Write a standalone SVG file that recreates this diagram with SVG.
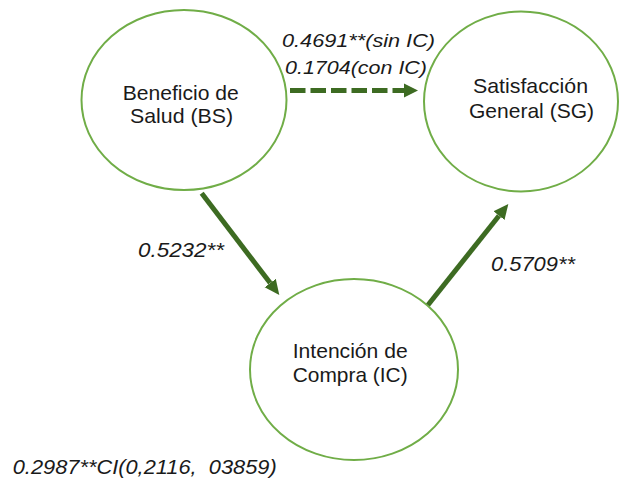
<svg xmlns="http://www.w3.org/2000/svg" width="620" height="478" viewBox="0 0 620 478">
<style>
.node ellipse{fill:#ffffff;stroke:#70ad47;stroke-width:2}
.nt{font-family:"Liberation Sans",Arial,sans-serif;font-size:21px;fill:#1a1a1a}
.lbl{font-family:"Liberation Sans",Arial,sans-serif;font-style:italic;fill:#1a1a1a}
.conn line{stroke:#3d6b22;fill:none}
</style>
<defs>
<marker id="ah" viewBox="0 -8 16 16" refX="0" refY="0" markerWidth="16" markerHeight="16" markerUnits="userSpaceOnUse" orient="auto">
<path d="M0,-7 L15,0 L0,7 z" fill="#3d6b22"/>
</marker>
<marker id="ahs" viewBox="0 -8 16 16" refX="0" refY="0" markerWidth="16" markerHeight="16" markerUnits="userSpaceOnUse" orient="auto">
<path d="M0,-7 L14,0 L0,7 z" fill="#3d6b22"/>
</marker>
</defs>
<rect width="620" height="478" fill="#ffffff"/>
<g id="BS" class="node">
<ellipse cx="184" cy="100" rx="102.5" ry="90"/>
<text class="nt" x="122.7" y="100" textLength="116" lengthAdjust="spacingAndGlyphs">Beneficio de</text>
<text class="nt" x="130" y="123" textLength="103" lengthAdjust="spacingAndGlyphs">Salud (BS)</text>
</g>
<g id="SG" class="node">
<ellipse cx="521" cy="101.5" rx="97" ry="90"/>
<text class="nt" x="473" y="93" textLength="115" lengthAdjust="spacingAndGlyphs">Satisfacción</text>
<text class="nt" x="469" y="118" textLength="125" lengthAdjust="spacingAndGlyphs">General (SG)</text>
</g>
<g id="IC" class="node">
<ellipse cx="354" cy="369.5" rx="104" ry="90.5"/>
<text class="nt" x="292.7" y="358" textLength="115" lengthAdjust="spacingAndGlyphs">Intención de</text>
<text class="nt" x="292.7" y="382" textLength="115" lengthAdjust="spacingAndGlyphs">Compra (IC)</text>
</g>
<g id="connectors" class="conn">
<line x1="290" y1="90.5" x2="404" y2="90.5" stroke-width="5" stroke-dasharray="15.5 5" marker-end="url(#ahs)"/>
<line x1="201.7" y1="193.3" x2="270.2" y2="283.1" stroke-width="5" marker-end="url(#ah)"/>
<line x1="428" y1="305" x2="499" y2="215.7" stroke-width="5" marker-end="url(#ah)"/>
</g>
<g id="labels">
<text class="lbl" x="282" y="47" font-size="18.5" textLength="153" lengthAdjust="spacingAndGlyphs">0.4691**(sin IC)</text>
<text class="lbl" x="285" y="74" font-size="18.5" textLength="142" lengthAdjust="spacingAndGlyphs">0.1704(con IC)</text>
<text class="lbl" x="138" y="257" font-size="21" textLength="86" lengthAdjust="spacingAndGlyphs">0.5232**</text>
<text class="lbl" x="491" y="271" font-size="21" textLength="84" lengthAdjust="spacingAndGlyphs">0.5709**</text>
<text class="lbl" x="12.7" y="474" font-size="20" textLength="264" lengthAdjust="spacingAndGlyphs" xml:space="preserve">0.2987**CI(0,2116,  03859)</text>
</g>
</svg>
